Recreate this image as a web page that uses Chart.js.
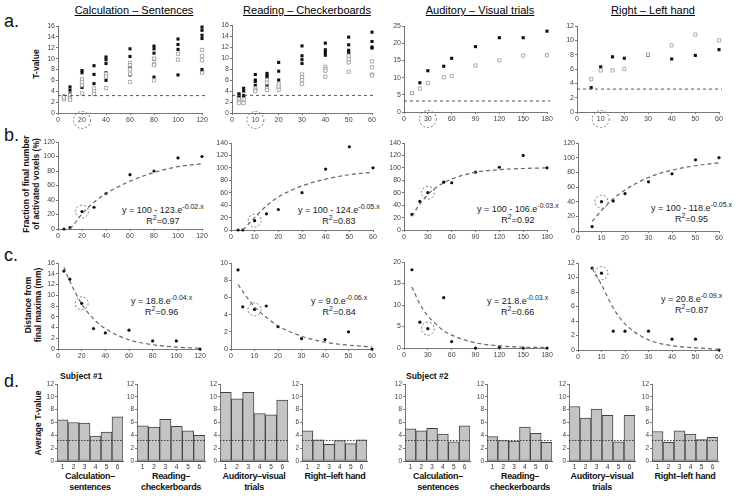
<!DOCTYPE html>
<html>
<head>
<meta charset="utf-8">
<script src="https://cdn.jsdelivr.net/npm/chart.js@4.4.1/dist/chart.umd.min.js"></script>
<style>
  body { margin: 0; background: #fff; }
  #fig { position: relative; width: 736px; height: 503px; overflow: hidden; font-family: "Liberation Sans", Arial, sans-serif; color: #111; }
  #fig canvas { position: absolute; }
  .t { position: absolute; white-space: nowrap; line-height: 1; }
  .title { font-size: 11px; text-decoration: underline; transform: translateX(-50%); color: #000; }
  .letter { font-size: 18px; }
  .ylab { font-weight: bold; font-size: 8.5px; line-height: 10px; text-align: center; transform: translate(-50%, -50%) rotate(-90deg); }
  .eq { font-size: 9px; line-height: 11px; text-align: center; color: #222; }
  .eq sup { font-size: 7px; vertical-align: 4px; line-height: 0; }
  .grp { font-weight: bold; font-size: 9px; letter-spacing: -0.3px; line-height: 11px; text-align: center; transform: translateX(-50%); }
  .subj { font-weight: bold; font-size: 8.5px; }
</style>
</head>
<body>
<div id="fig">
  <div class="t letter" style="left:4px;top:12px">a.</div>
  <div class="t letter" style="left:4px;top:126px">b.</div>
  <div class="t letter" style="left:4px;top:246px">c.</div>
  <div class="t letter" style="left:4px;top:372px">d.</div>

  <div class="t title" style="left:134px;top:5px">Calculation – Sentences</div>
  <div class="t title" style="left:307px;top:5px">Reading – Checkerboards</div>
  <div class="t title" style="left:480px;top:5px">Auditory – Visual trials</div>
  <div class="t title" style="left:653px;top:5px">Right – Left hand</div>

  <div class="t ylab" style="left:36px;top:64px">T-value</div>
  <div class="t ylab" style="left:31px;top:184px">Fraction of final number<br>of activated voxels (%)</div>
  <div class="t ylab" style="left:33px;top:305px">Distance from<br>final maxima (mm)</div>
  <div class="t ylab" style="left:38px;top:423px">Average T-value</div>

  <div class="t eq" style="left:122px;top:205px">y = 100 - 123.e<sup>-0.02.x</sup><br>R<sup>2</sup>=0.97</div>
  <div class="t eq" style="left:298px;top:205px">y = 100 - 124.e<sup>-0.05.x</sup><br>R<sup>2</sup>=0.83</div>
  <div class="t eq" style="left:477px;top:204px">y = 100 - 106.e<sup>-0.03.x</sup><br>R<sup>2</sup>=0.92</div>
  <div class="t eq" style="left:651px;top:203px">y = 100 - 118.e<sup>-0.05.x</sup><br>R<sup>2</sup>=0.95</div>
  <div class="t eq" style="left:131px;top:296px">y = 18.8.e<sup>-0.04.x</sup><br>R<sup>2</sup>=0.96</div>
  <div class="t eq" style="left:311px;top:296px">y = 9.0.e<sup>-0.06.x</sup><br>R<sup>2</sup>=0.84</div>
  <div class="t eq" style="left:487px;top:296px">y = 21.8.e<sup>-0.03.x</sup><br>R<sup>2</sup>=0.66</div>
  <div class="t eq" style="left:661px;top:294px">y = 20.8.e<sup>-0.09.x</sup><br>R<sup>2</sup>=0.87</div>

  <div class="t subj" style="left:60px;top:372px">Subject #1</div>
  <div class="t subj" style="left:406px;top:372px">Subject #2</div>

  <div class="t grp" style="left:90px;top:471px">Calculation–<br>sentences</div>
  <div class="t grp" style="left:171px;top:471px">Reading–<br>checkerboards</div>
  <div class="t grp" style="left:254px;top:471px">Auditory–visual<br>trials</div>
  <div class="t grp" style="left:335px;top:471px">Right–left hand</div>
  <div class="t grp" style="left:438px;top:471px">Calculation–<br>sentences</div>
  <div class="t grp" style="left:520px;top:471px">Reading–<br>checkerboards</div>
  <div class="t grp" style="left:602px;top:471px">Auditory–visual<br>trials</div>
  <div class="t grp" style="left:685px;top:471px">Right–left hand</div>
</div>

<script>
const THRESH = 3.2;

// row a: T-values per number of trials (several voxels/sessions per x)
const calcN = [5, 10, 20, 30, 40, 60, 80, 100, 120];
const calcFilled = [[3.1, 2.8, 2.6], [4.8, 4.2, 3.5, 3.1], [7.8, 7.4, 6.0, 4.7], [8.7, 7.1, 5.4],
  [10.3, 9.8, 9.1, 7.4, 6.7, 6.0], [11.8, 10.4, 8.5, 7.0], [12.3, 11.8, 11.0, 9.9, 6.6],
  [13.6, 12.6, 11.7, 7.0], [15.8, 15.2, 14.3, 13.7, 8.0, 7.6]];
const calcOpen = [[2.5, 2.9], [3.3, 2.7, 2.4], [6.2, 5.7, 5.1, 3.6], [4.5, 4.0, 3.5], [7.2, 6.7, 4.6],
  [9.2, 8.8, 8.0, 7.2, 5.7], [10.0, 9.0, 8.8, 6.0], [10.9, 9.8], [11.6, 10.5, 9.7, 7.4]];

const readN = [3, 5, 10, 15, 20, 30, 40, 50, 60];
const readFilled = [[3.5, 3.2, 2.8], [4.5, 4.0, 3.2, 2.8], [7.0, 6.0, 5.7, 5.0], [7.2, 6.8, 6.5, 5.0],
  [9.2, 7.6, 6.0], [12.2, 10.4, 9.7, 9.0], [12.7, 11.5, 11.0, 10.5], [13.8, 12.4, 11.4, 11.0],
  [14.7, 13.0, 12.0, 11.8]];
const readOpen = [[2.5, 2.1, 1.8], [2.5, 1.8], [4.5, 4.2, 4.0], [6.0, 5.5, 4.5, 4.2], [5.3, 4.8, 4.2],
  [7.0, 6.5, 6.0, 5.3], [8.4, 8.0, 7.7, 6.6], [10.4, 9.8, 9.2, 7.5], [9.4, 8.3, 7.0, 6.8]];

const audN = [10, 20, 30, 50, 60, 90, 120, 150, 180];
const audFilled = [5.5, 8.5, 12.0, 13.3, 15.6, 19.0, 21.6, 21.6, 23.5];
const audOpen = [5.5, 6.8, 8.4, 10.1, 10.5, 13.5, 15.0, 16.4, 16.5];

const handN = [6, 10, 15, 20, 30, 40, 50, 60];
const handFilled = [3.4, 6.3, 7.7, 7.5, 7.9, 7.4, 7.9, 8.7];
const handOpen = [4.6, 5.8, 5.8, 6.0, 8.0, 9.3, 10.8, 10.0];

// row b: fraction of final number of activated voxels (%)
const calcFrac = [0, 2, 24, 30, 49, 75, 80, 98, 100];
const calcFracFitN = [10, 15, 20, 30, 40, 50, 60, 80, 100, 120];
const calcFracFit = [0, 10, 21, 37, 49, 58, 66, 78, 86, 90];
const readFrac = [0, 0, 15, 26, 33, 60, 98, 134, 100];
const readFracFitN = [5, 10, 15, 20, 30, 40, 50, 60];
const readFracFit = [0, 20, 39, 53, 71, 82, 89, 93];
const audFrac = [25, 46, 60, 77, 76, 93, 101, 120, 100];
const audFracFitN = [10, 20, 30, 40, 50, 60, 90, 120, 150, 180];
const audFracFit = [22, 42, 57, 68, 76, 82, 93, 97, 99, 100];
const handFrac = [6, 40, 41, 51, 67, 78, 97, 100];
const handFracFitN = [6, 10, 15, 20, 30, 40, 50, 60];
const handFracFit = [13, 28, 44, 56, 73, 83, 89, 93];

// row c: distance from final maxima (mm)
const calcDist = [14.5, 13, 8.5, 3.8, 3.0, 3.5, 1.5, 1.5, 0];
const calcDistFitN = [5, 10, 20, 30, 40, 60, 80, 100, 120];
const calcDistFit = [15.2, 12.6, 8.4, 5.6, 3.8, 1.7, 0.8, 0.35, 0.15];
const readDist = [9.2, 4.9, 4.6, 5.0, 2.6, 1.2, 1.1, 2.0, 0];
const readDistFitN = [3, 5, 10, 15, 20, 30, 40, 50, 60];
const readDistFit = [7.5, 6.7, 4.9, 3.7, 2.7, 1.5, 0.8, 0.45, 0.25];
const audDist = [18.2, 6.0, 4.5, 11.7, 1.5, 0, 0.2, 0, 0];
const audDistFitN = [10, 20, 30, 40, 50, 60, 90, 120, 150, 180];
const audDistFit = [14.2, 10.2, 7.5, 5.6, 4.0, 3.0, 1.2, 0.5, 0.2, 0.1];
const handDist = [11.3, 10.6, 2.6, 2.6, 2.6, 1.5, 1.5, 0];
const handDistFitN = [6, 10, 15, 20, 30, 40, 50, 60];
const handDistFit = [11.3, 9.0, 5.8, 3.6, 1.4, 0.6, 0.3, 0.1];

// highlighted number of trials
const calcMark = 20, readMark = 10, audMark = 30, handMark = 10;

// row d: average T-value per run
const runs = ['1', '2', '3', '4', '5', '6'];
const s1Calc = [6.4, 6.0, 5.9, 3.9, 4.5, 6.9];
const s1Read = [5.5, 5.3, 6.5, 5.4, 4.7, 4.0];
const s1Aud  = [10.7, 9.7, 10.7, 7.4, 7.2, 9.5];
const s1Hand = [4.7, 3.3, 2.6, 3.2, 2.7, 3.3];
const s2Calc = [5.0, 4.7, 5.1, 4.2, 3.0, 5.5];
const s2Read = [3.8, 3.2, 3.1, 5.3, 4.3, 2.9];
const s2Aud  = [8.5, 6.7, 8.1, 7.1, 3.0, 7.1];
const s2Hand = [4.6, 2.9, 4.7, 4.2, 3.35, 3.7];

Chart.defaults.font.family = '"Liberation Sans", Arial, sans-serif';
const fig = document.getElementById('fig');
const PAD = { left: 2, top: 8, right: 14, bottom: 4 };

// threshold line + dashed rings around highlighted point / tick
const marks = {
  id: 'marks',
  afterDatasetsDraw(chart, args, o) {
    const { ctx, chartArea: a, scales: { x, y } } = chart;
    ctx.save();
    ctx.strokeStyle = o.color || '#555';
    ctx.lineWidth = 1;
    if (o.hline != null) {
      const py = y.getPixelForValue(o.hline);
      ctx.setLineDash(o.dash || [3, 3]);
      ctx.beginPath(); ctx.moveTo(a.left, py); ctx.lineTo(a.right + (o.extend || 0), py); ctx.stroke();
    }
    ctx.strokeStyle = '#777';
    ctx.setLineDash([2, 2]);
    if (o.ringX != null && o.ringY != null) {
      ctx.beginPath();
      ctx.arc(x.getPixelForValue(o.ringX), y.getPixelForValue(o.ringY), 6.5, 0, Math.PI * 2);
      ctx.stroke();
    }
    if (o.tickRing != null) {
      ctx.beginPath();
      ctx.arc(x.getPixelForValue(o.tickRing), a.bottom + 7, 8.5, 0, Math.PI * 2);
      ctx.stroke();
    }
    ctx.restore();
  }
};
Chart.register(marks);

function place(box, yw, xh) {
  const c = document.createElement('canvas');
  c.width = box.r - box.l + yw + PAD.left + PAD.right;
  c.height = box.b - box.t + PAD.top + xh + PAD.bottom;
  c.style.left = (box.l - yw - PAD.left) + 'px';
  c.style.top = (box.t - PAD.top) + 'px';
  fig.appendChild(c);
  return c;
}

function axis(min, max, step, isX, w, size) {
  return {
    type: 'linear', min, max,
    ticks: { stepSize: step, font: { size: size || 7 }, color: '#444', padding: 1, maxRotation: 0, autoSkip: false },
    grid: { display: true, drawOnChartArea: false, tickLength: 2, color: '#777' },
    border: { color: '#777' },
    afterFit: isX
      ? s => { s.height = w; s.paddingLeft = 0; s.paddingRight = 0; }
      : s => { s.width = w; s.paddingTop = 0; s.paddingBottom = 0; }
  };
}

function opts(scales, m) {
  return {
    responsive: false, animation: false, events: [],
    layout: { padding: PAD },
    scales,
    plugins: { legend: { display: false }, tooltip: { enabled: false }, marks: m }
  };
}

function pts(xs, ys) {
  const out = [];
  xs.forEach((x, i) => [].concat(ys[i]).forEach(y => out.push({ x, y })));
  return out;
}

function trialPanel(box, xs, filled, open, xr, yr, mark) {
  new Chart(place(box, 20, 14), {
    type: 'scatter',
    data: { datasets: [
      { data: pts(xs, open), pointStyle: 'rect', pointRadius: 2.3, backgroundColor: '#fff', borderColor: '#999', borderWidth: 0.8, clip: false },
      { data: pts(xs, filled), pointStyle: 'rect', pointRadius: 2.2, backgroundColor: '#111', borderWidth: 0, clip: false }
    ] },
    options: opts({ x: axis(0, xr[0], xr[1], true, 14), y: axis(0, yr[0], yr[1], false, 20) },
      { hline: THRESH, extend: 3, tickRing: mark })
  });
}

function fitPanel(box, xs, ys, fx, fy, xr, yr, mark) {
  const hi = xs.indexOf(mark);
  new Chart(place(box, 20, 14), {
    type: 'scatter',
    data: { datasets: [
      { data: pts(fx, fy), showLine: true, borderColor: '#666', borderWidth: 1.2, borderDash: [4, 3],
        pointRadius: 0, cubicInterpolationMode: 'monotone', fill: false },
      { data: pts(xs, ys), pointRadius: 1.6, backgroundColor: '#111', borderWidth: 0, clip: false }
    ] },
    options: opts({ x: axis(0, xr[0], xr[1], true, 14), y: axis(0, yr[0], yr[1], false, 20) },
      { ringX: mark, ringY: ys[hi] })
  });
}

function barPanel(box, vals) {
  new Chart(place(box, 12, 11), {
    type: 'bar',
    data: { labels: runs, datasets: [{ data: vals, backgroundColor: '#c4c4c4', borderColor: '#444', borderWidth: 1,
      borderSkipped: false, categoryPercentage: 1, barPercentage: 1 }] },
    options: opts({
      x: { type: 'category', offset: true,
        ticks: { font: { size: 6.5 }, color: '#333', padding: 2, maxRotation: 0, autoSkip: false },
        grid: { display: false, drawTicks: false, tickLength: 0 }, border: { display: true, color: '#555' },
        afterFit: s => { s.height = 11; s.paddingLeft = 0; s.paddingRight = 0; } },
      y: axis(0, 12, 2, false, 12, 6.5)
    }, { hline: THRESH, dash: [1.5, 1.5], color: '#333' })
  });
}

// row a
trialPanel({ l: 58, t: 26, r: 202, b: 113 }, calcN, calcFilled, calcOpen, [120, 20], [16, 2], calcMark);
trialPanel({ l: 232, t: 25, r: 372, b: 113 }, readN, readFilled, readOpen, [60, 10], [16, 2], readMark);
trialPanel({ l: 404, t: 26, r: 547, b: 112 }, audN, audFilled, audOpen, [180, 30], [25, 5], audMark);
trialPanel({ l: 577, t: 26, r: 719, b: 112 }, handN, handFilled, handOpen, [60, 10], [12, 2], handMark);

// row b
fitPanel({ l: 58, t: 142, r: 202, b: 229 }, calcN, calcFrac, calcFracFitN, calcFracFit, [120, 20], [120, 20], calcMark);
fitPanel({ l: 231, t: 143, r: 373, b: 230 }, readN, readFrac, readFracFitN, readFracFit, [60, 10], [140, 20], readMark);
fitPanel({ l: 404, t: 143, r: 547, b: 230 }, audN, audFrac, audFracFitN, audFracFit, [180, 30], [140, 20], audMark);
fitPanel({ l: 578, t: 143, r: 719, b: 231 }, handN, handFrac, handFracFitN, handFracFit, [60, 10], [120, 20], handMark);

// row c
fitPanel({ l: 58, t: 263, r: 200, b: 349 }, calcN, calcDist, calcDistFitN, calcDistFit, [120, 20], [16, 2], calcMark);
fitPanel({ l: 231, t: 263, r: 372, b: 349 }, readN, readDist, readDistFitN, readDistFit, [60, 10], [10, 2], readMark);
fitPanel({ l: 404, t: 262, r: 547, b: 348 }, audN, audDist, audDistFitN, audDistFit, [180, 30], [20, 5], audMark);
fitPanel({ l: 578, t: 263, r: 719, b: 350 }, handN, handDist, handDistFitN, handDistFit, [60, 10], [12, 2], handMark);

// row d
const barL = [57, 137, 220, 302, 405, 487, 569, 652];
const barR = [123, 205, 288, 367, 470, 552, 635, 718];
[s1Calc, s1Read, s1Aud, s1Hand, s2Calc, s2Read, s2Aud, s2Hand].forEach((v, i) =>
  barPanel({ l: barL[i], t: 384, r: barR[i], b: 461 }, v));
</script>
</body>
</html>
